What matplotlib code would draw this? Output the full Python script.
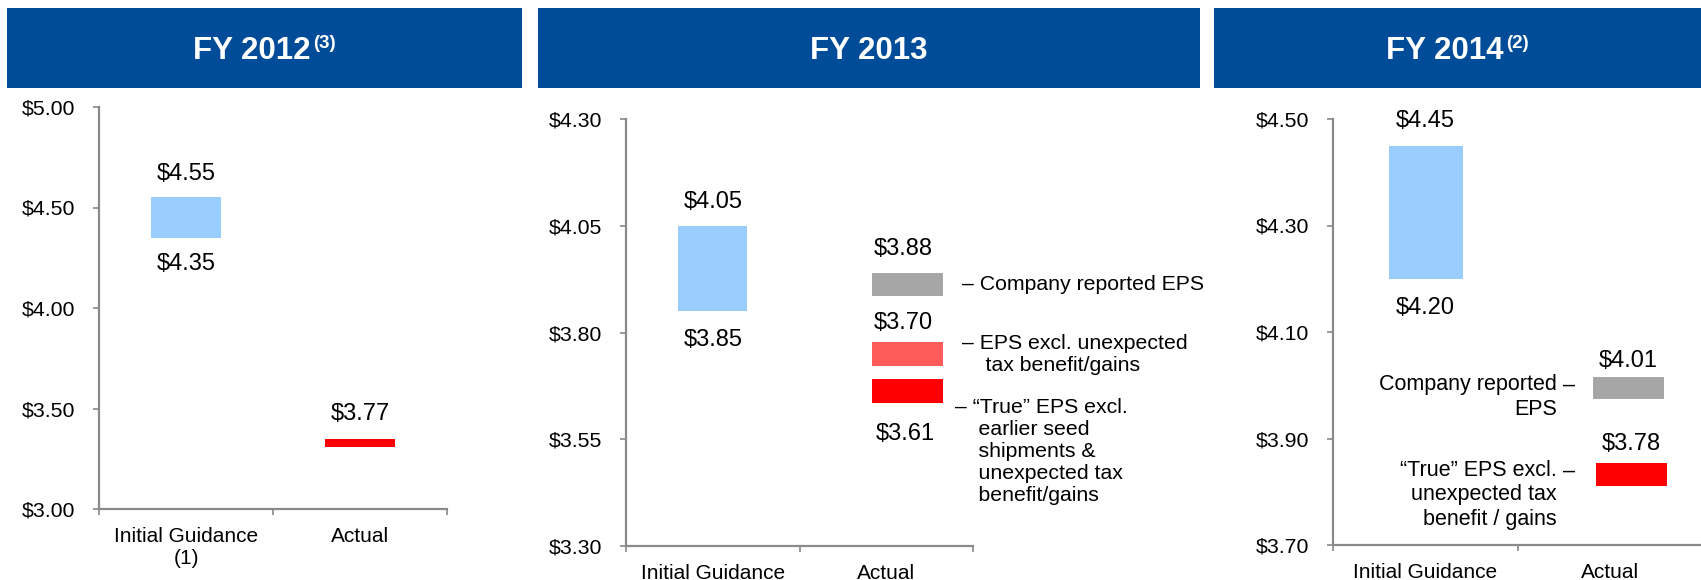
import matplotlib
matplotlib.use("Agg")
import matplotlib.pyplot as plt
from matplotlib.patches import Rectangle
from matplotlib.ticker import FuncFormatter

W, H = 1701, 580
BLUE = "#004C98"
SPINE = "#898989"
LIGHT_BLUE = "#99CCFF"
GRAY = "#A6A6A6"
PINK = "#FF5B5B"
RED = "#FF0000"

FAM = ["Liberation Sans", "DejaVu Sans"]

categories = ["Initial Guidance", "Actual"]

# FY 2012
fy12_ylim = (3.00, 5.00)
fy12_ticks = [3.00, 3.50, 4.00, 4.50, 5.00]
fy12_categories = ["Initial Guidance\n(1)", "Actual"]
fy12_guidance = (4.35, 4.55)
fy12_guidance_labels = ["$4.55", "$4.35"]
fy12_actual_bar = (3.31, 3.35)
fy12_actual_label = "$3.77"

# FY 2013
fy13_ylim = (3.30, 4.30)
fy13_ticks = [3.30, 3.55, 3.80, 4.05, 4.30]
fy13_guidance = (3.85, 4.05)
fy13_guidance_labels = ["$4.05", "$3.85"]
fy13_actual_bars = [(3.885, 3.94), (3.722, 3.777), (3.636, 3.69)]
fy13_actual_labels = ["$3.88", "$3.70", "$3.61"]
fy13_notes = ["\u2013 Company reported EPS",
              "\u2013 EPS excl. unexpected\n    tax benefit/gains",
              "\u2013 \u201cTrue\u201d EPS excl.\n    earlier seed\n    shipments &\n"
              "    unexpected tax\n    benefit/gains"]

# FY 2014
fy14_ylim = (3.70, 4.50)
fy14_ticks = [3.70, 3.90, 4.10, 4.30, 4.50]
fy14_guidance = (4.20, 4.45)
fy14_guidance_labels = ["$4.45", "$4.20"]
fy14_actual_bars = [(3.975, 4.015), (3.811, 3.854)]
fy14_actual_labels = ["$4.01", "$3.78"]
fy14_notes = ["Company reported\nEPS",
              "\u201cTrue\u201d EPS excl.\nunexpected tax\nbenefit / gains"]

fig = plt.figure(figsize=(W / 100, H / 100), dpi=100)


def px_axes(x0, x1, ytop, ybot):
    return fig.add_axes([x0 / W, 1 - ybot / H, (x1 - x0) / W, (ybot - ytop) / H])


def style_axes(ax, ylim, ticks, xlabels):
    ax.set_xlim(0, 2)
    ax.set_ylim(*ylim)
    for s in ["top", "right"]:
        ax.spines[s].set_visible(False)
    for s in ["left", "bottom"]:
        ax.spines[s].set_color(SPINE)
        ax.spines[s].set_linewidth(1.6)
    ax.set_yticks(ticks)
    ax.yaxis.set_major_formatter(FuncFormatter(lambda v, _: f"${v:.2f}"))
    ax.tick_params(axis="y", direction="out", length=4, width=1.2, color=SPINE, pad=13)
    for lab in ax.get_yticklabels():
        lab.set_family(FAM)
        lab.set_fontsize(15.3)
    ax.set_xticks([0, 1, 2])
    ax.set_xticklabels([])
    ax.tick_params(axis="x", which="major", direction="out", length=4, width=1.2, color=SPINE)
    ax.set_xticks([0.5, 1.5], minor=True)
    ax.set_xticklabels(xlabels, minor=True, family=FAM, fontsize=15, linespacing=1.2)
    ax.tick_params(axis="x", which="minor", length=0, pad=13)


def bar(ax, x, lohi, w, color):
    lo, hi = lohi
    ax.bar(x, hi - lo, bottom=lo, width=w, color=color, linewidth=0)


def label(ax, x, y, s, dy, va):
    ax.annotate(s, (x, y), xytext=(0, dy), textcoords="offset points",
                ha="center", va=va, family=FAM, fontsize=17, color="black")


def header(x0, x1, main, sup):
    fig.add_artist(Rectangle((x0 / W, 1 - 88 / H), (x1 - x0) / W, 80 / H,
                             transform=fig.transFigure, color=BLUE, lw=0))
    r = fig.canvas.get_renderer()
    t = fig.text(0, 1 - 59 / H, main, ha="left", va="baseline", color="white",
                 fontsize=22.5, fontweight="bold", family=FAM)
    wm = t.get_window_extent(r).width
    ws, gap = 0, 0
    s = None
    if sup:
        s = fig.text(0, 1 - 35 / H, sup, ha="left", va="top", color="white",
                     fontsize=13.5, fontweight="bold", family=FAM)
        ws = s.get_window_extent(r).width
        gap = 2
    start = (x0 + x1) / 2 - (wm + ws + gap) / 2
    t.set_x(start / W)
    if s is not None:
        s.set_x((start + wm + gap) / W)


header(7, 522, "FY 2012", "(3)")
header(538, 1200, "FY 2013", None)
header(1214, 1701, "FY 2014", "(2)")

# ---- FY 2012
ax1 = px_axes(99, 447, 107, 509)
style_axes(ax1, fy12_ylim, fy12_ticks, fy12_categories)
bar(ax1, 0.5, fy12_guidance, 0.4, LIGHT_BLUE)
bar(ax1, 1.5, fy12_actual_bar, 0.4, RED)
label(ax1, 0.5, fy12_guidance[1], fy12_guidance_labels[0], 9, "bottom")
label(ax1, 0.5, fy12_guidance[0], fy12_guidance_labels[1], -11, "top")
label(ax1, 1.5, fy12_actual_bar[1], fy12_actual_label, 10, "bottom")

# ---- FY 2013
ax2 = px_axes(626, 973, 119, 546)
style_axes(ax2, fy13_ylim, fy13_ticks, categories)
bar(ax2, 0.5, fy13_guidance, 0.4, LIGHT_BLUE)
label(ax2, 0.5, fy13_guidance[1], fy13_guidance_labels[0], 9, "bottom")
label(ax2, 0.5, fy13_guidance[0], fy13_guidance_labels[1], -13, "top")
act_x2 = 1.62
for lohi, c in zip(fy13_actual_bars, [GRAY, PINK, RED]):
    bar(ax2, act_x2, lohi, 0.41, c)
label(ax2, act_x2 - 0.02, fy13_actual_bars[0][1], fy13_actual_labels[0], 9, "bottom")
label(ax2, act_x2 - 0.02, fy13_actual_bars[1][1], fy13_actual_labels[1], 6, "bottom")
label(ax2, act_x2 - 0.01, fy13_actual_bars[2][0], fy13_actual_labels[2], -15, "top")
for i, note in enumerate(fy13_notes):
    lo, hi = fy13_actual_bars[i]
    if i < 2:
        ax2.text(1.937, (lo + hi) / 2, note, ha="left", va="center", family=FAM,
                 fontsize=15.3, linespacing=1.2, clip_on=False)
    else:
        ax2.annotate(note, (1.896, lo), xytext=(0, 3), textcoords="offset points",
                     ha="left", va="top", family=FAM, fontsize=15.3, linespacing=1.2)

# ---- FY 2014
ax3 = px_axes(1333, 1703, 119, 545)
style_axes(ax3, fy14_ylim, fy14_ticks, categories)
bar(ax3, 0.5, fy14_guidance, 0.4, LIGHT_BLUE)
label(ax3, 0.5, fy14_guidance[1], fy14_guidance_labels[0], 10, "bottom")
label(ax3, 0.5, fy14_guidance[0], fy14_guidance_labels[1], -13, "top")
for lohi, c, x in zip(fy14_actual_bars, [GRAY, RED], [1.597, 1.613]):
    bar(ax3, x, lohi, 0.38, c)
label(ax3, 1.594, fy14_actual_bars[0][1], fy14_actual_labels[0], 3.5, "bottom")
label(ax3, 1.61, fy14_actual_bars[1][1], fy14_actual_labels[1], 5.5, "bottom")
for i, note in enumerate(fy14_notes):
    top = fy14_actual_bars[i][1]
    ax3.annotate(note, (1.211, top), xytext=(0, 2), textcoords="offset points",
                 ha="right", va="top", family=FAM, fontsize=15.5, linespacing=1.2,
                 multialignment="right")
    ax3.annotate("\u2013", (1.243, top), xytext=(0, 2), textcoords="offset points",
                 ha="left", va="top", family=FAM, fontsize=15.5)

fig.savefig("out.png", dpi=100)
